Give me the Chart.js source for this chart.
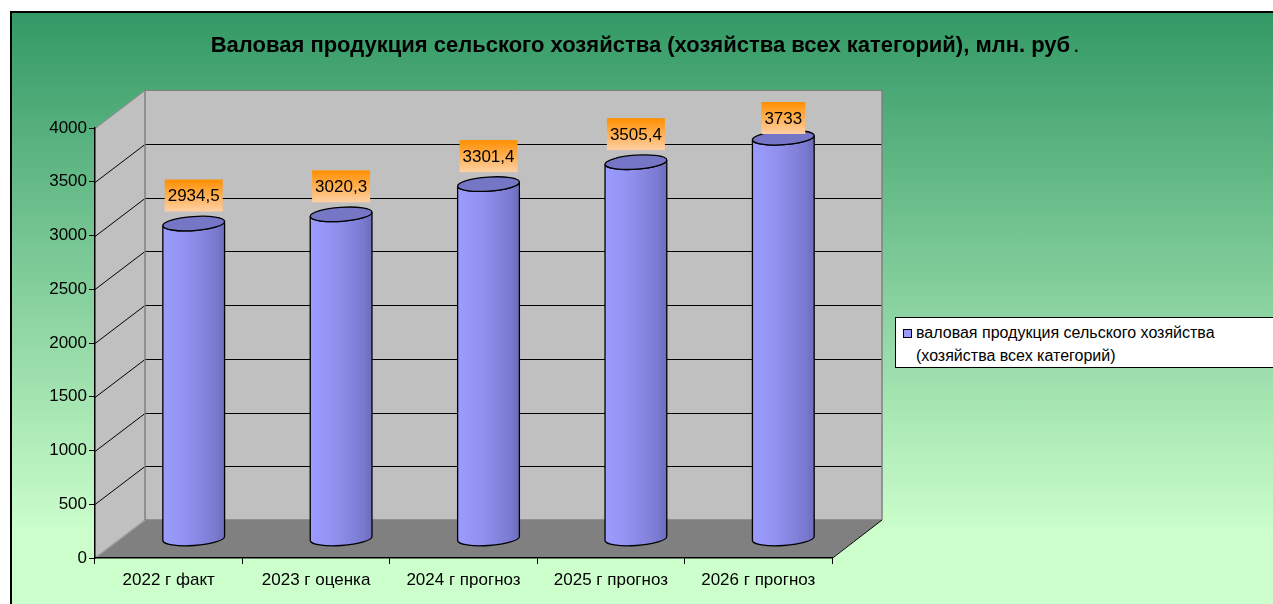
<!DOCTYPE html>
<html>
<head>
<meta charset="utf-8">
<script src="https://cdn.jsdelivr.net/npm/chart.js@4"></script>
<style>
  body { margin: 0; background: #fff; overflow: hidden; }
  #frame {
    position: absolute; left: 10px; top: 11px;
    width: 1263px; height: 593px;
    border-left: 2px solid #000; border-top: 2px solid #000;
    background: linear-gradient(to bottom, #339966 0%, #ccffcc 88%, #ccffcc 100%);
    overflow: hidden;
  }
  #chart { position: absolute; left: 0; top: 0; }
  #legend {
    position: absolute; left: 883px; top: 304px;
    width: 420px; height: 51px; box-sizing: border-box;
    border: 1px solid #000; background: #fff;
    font: 16px "Liberation Sans", Arial, sans-serif; color: #000;
  }
  #legend .mark {
    position: absolute; left: 7px; top: 11px; width: 7px; height: 7px;
    border: 1px solid #000; background: #9999ff;
  }
  #legend .txt { position: absolute; left: 20px; top: 4px; width: 330px; line-height: 22.5px; }
</style>
</head>
<body>
<div id="frame">
  <canvas id="chart" width="1261" height="591"></canvas>
  <div id="legend"><div class="mark"></div><div class="txt" id="legendText"></div></div>
</div>
<script>
// Категории и значения
const categories = ['2022 г факт', '2023 г оценка', '2024 г прогноз', '2025 г прогноз', '2026 г прогноз'];
const values = [2934.5, 3020.3, 3301.4, 3505.4, 3733];
const valueLabels = ['2934,5', '3020,3', '3301,4', '3505,4', '3733'];
const seriesName = 'валовая продукция сельского хозяйства (хозяйства всех категорий)';
const titleBold = 'Валовая продукция сельского хозяйства (хозяйства всех категорий), млн. руб';
const titleTail = '.';
const yMin = 0, yMax = 4000, yStep = 500;

document.getElementById('legendText').textContent = seriesName;

const FONT = '"Liberation Sans", Arial, sans-serif';
Chart.defaults.font.family = FONT;
Chart.defaults.color = '#000';

const DX = 50, DY = -38; // глубина 3D

// заголовок (жирный текст + обычная точка)
const chartTitle = {
  id: 'chartTitle',
  afterDraw(chart) {
    const ctx = chart.ctx;
    ctx.save();
    ctx.textBaseline = 'middle';
    ctx.textAlign = 'left';
    ctx.fillStyle = '#000';
    ctx.font = 'bold 22px ' + FONT;
    const w1 = ctx.measureText(titleBold).width;
    ctx.font = '22px ' + FONT;
    const w2 = ctx.measureText(titleTail).width + 3;
    let x = 633 - (w1 + w2) / 2;
    ctx.font = 'bold 22px ' + FONT;
    ctx.fillText(titleBold, x, 32.5);
    ctx.font = '22px ' + FONT;
    ctx.fillText(titleTail, x + w1 + 3, 32.5);
    ctx.restore();
  }
};

// стенки, пол и сетка
const walls = {
  id: 'walls',
  beforeDraw(chart) {
    const { ctx, chartArea: a, scales: { y } } = chart;
    const L = a.left, R = a.right, T = a.top, B = a.bottom;
    ctx.save();
    ctx.fillStyle = '#c0c0c0';
    ctx.beginPath();
    ctx.moveTo(L, B); ctx.lineTo(L, T); ctx.lineTo(L + DX, T + DY); ctx.lineTo(L + DX, B + DY);
    ctx.closePath(); ctx.fill();
    ctx.fillRect(L + DX, T + DY, R - L, B - T);
    // пол
    ctx.fillStyle = '#808080';
    ctx.beginPath();
    ctx.moveTo(L, B); ctx.lineTo(R, B); ctx.lineTo(R + DX, B + DY); ctx.lineTo(L + DX, B + DY);
    ctx.closePath(); ctx.fill();
    // линии сетки
    ctx.lineWidth = 1;
    y.ticks.forEach(t => {
      if (t.value === yMin) return;
      const py = Math.round(y.getPixelForValue(t.value)) + 0.5;
      ctx.strokeStyle = t.value === yMax ? '#808080' : '#000';
      ctx.beginPath();
      ctx.moveTo(L, py); ctx.lineTo(L + DX, py + DY); ctx.lineTo(R + DX, py + DY);
      ctx.stroke();
    });
    // края стенок
    ctx.strokeStyle = '#808080';
    ctx.lineWidth = 1.5;
    ctx.beginPath();
    ctx.moveTo(L + DX, T + DY); ctx.lineTo(L + DX, B + DY); ctx.lineTo(R + DX, B + DY);
    ctx.moveTo(R + DX, T + DY); ctx.lineTo(R + DX, B + DY);
    ctx.stroke();
    ctx.strokeStyle = '#a0a0a0';
    ctx.beginPath();
    ctx.moveTo(L, B); ctx.lineTo(L + DX, B + DY);
    ctx.stroke();
    ctx.strokeStyle = '#000';
    ctx.lineWidth = 1;
    ctx.beginPath();
    ctx.moveTo(R, B + 0.5); ctx.lineTo(R + DX, B + DY);
    ctx.stroke();
    ctx.restore();
  }
};

// цилиндры и подписи значений
const cylinders = {
  id: 'cylinders',
  afterDatasetsDraw(chart) {
    const { ctx, chartArea: a } = chart;
    const meta = chart.getDatasetMeta(0);
    const rot = -0.07, ry = 7;
    ctx.save();
    meta.data.forEach((bar, i) => {
      const cx = bar.x + DX / 2, ty = bar.y + DY / 2, by = bar.base + DY / 2, rx = bar.width / 2;
      const g = ctx.createLinearGradient(cx - rx, 0, cx + rx, 0);
      g.addColorStop(0, '#9c9cff');
      g.addColorStop(0.3, '#9494f4');
      g.addColorStop(0.6, '#8787e2');
      g.addColorStop(0.85, '#7a7ad0');
      g.addColorStop(1, '#6c6cbc');
      ctx.beginPath();
      ctx.ellipse(cx, ty, rx, ry, rot, 0, Math.PI, false);
      ctx.ellipse(cx, by, rx, ry, rot, Math.PI, 0, true);
      ctx.closePath();
      ctx.fillStyle = g; ctx.fill();
      ctx.strokeStyle = '#000'; ctx.lineWidth = 1.3; ctx.stroke();
      ctx.beginPath();
      ctx.ellipse(cx, ty, rx, ry, rot, 0, Math.PI * 2);
      ctx.fillStyle = '#7676c6'; ctx.fill(); ctx.stroke();

      // подпись
      ctx.font = '17px ' + FONT;
      const w = ctx.measureText(valueLabels[i]).width + 6, h = 32;
      const ly = Math.max(ty - 28, a.top + DY + 28);
      const lg = ctx.createLinearGradient(0, ly - h / 2, 0, ly + h / 2);
      lg.addColorStop(0, '#ff8f00');
      lg.addColorStop(1, '#ffd0a4');
      ctx.fillStyle = lg;
      ctx.fillRect(cx - w / 2, ly - h / 2, w, h);
      ctx.fillStyle = '#000';
      ctx.textAlign = 'center'; ctx.textBaseline = 'middle';
      ctx.fillText(valueLabels[i], cx, ly + 1);
    });
    ctx.restore();
  }
};

const ctx = document.getElementById('chart').getContext('2d');
new Chart(ctx, {
  type: 'bar',
  data: {
    labels: categories,
    datasets: [{
      label: seriesName,
      data: values,
      backgroundColor: 'rgba(0,0,0,0)',
      borderWidth: 0,
      categoryPercentage: 1,
      barPercentage: 0.42
    }]
  },
  options: {
    responsive: false,
    animation: false,
    devicePixelRatio: 1,
    layout: { padding: { left: 0, right: 441, top: 115, bottom: 0 } },
    plugins: {
      legend: { display: false },
      tooltip: { enabled: false },
      title: { display: false }
    },
    scales: {
      x: {
        offset: true,
        grid: { drawOnChartArea: false, offset: true, tickLength: 6, color: '#000' },
        border: { color: '#000', width: 1.5 },
        ticks: { font: { size: 17 }, color: '#000', padding: 6, maxRotation: 0, autoSkip: false },
        afterFit(scale) { scale.height = 46; }
      },
      y: {
        min: yMin, max: yMax,
        grid: { drawOnChartArea: false, tickLength: 6, color: '#000' },
        border: { color: '#000', width: 1.5 },
        ticks: { stepSize: yStep, font: { size: 17 }, color: '#000', padding: 2, callback: v => String(v) },
        afterFit(scale) { scale.width = 83; }
      }
    }
  },
  plugins: [walls, cylinders, chartTitle]
});
</script>
</body>
</html>
